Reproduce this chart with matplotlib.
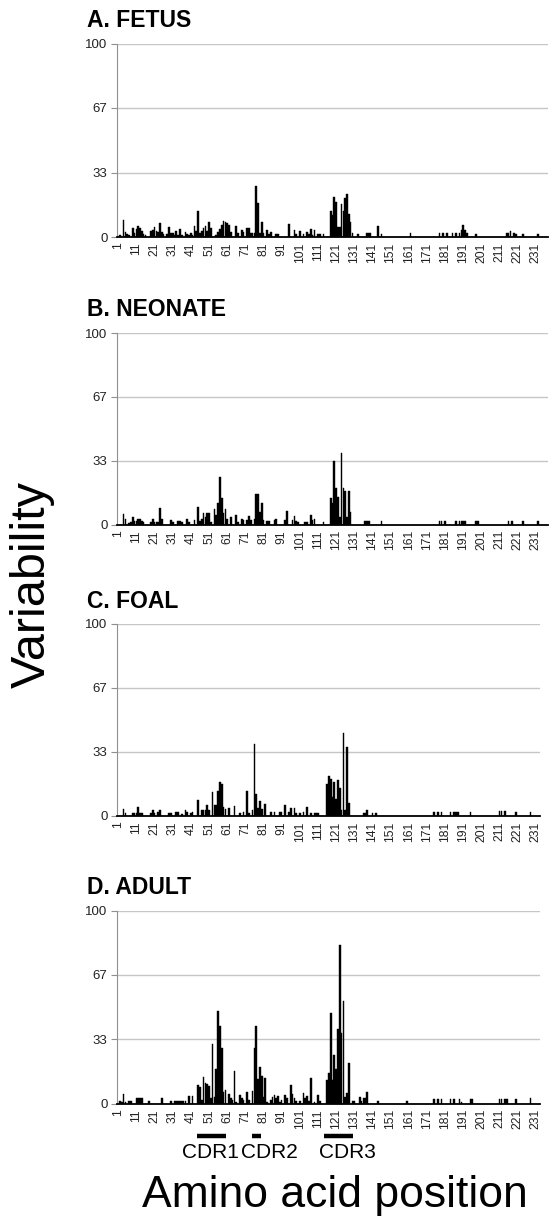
import matplotlib
matplotlib.use("Agg")
import matplotlib.pyplot as plt
import matplotlib.transforms as mtransforms

plt.rcParams['font.family'] = ['Liberation Sans', 'DejaVu Sans']

# ---------------- data ----------------
tick_labels = [str(v) for v in range(1, 232, 10)]
ytick_vals = [0, 100 / 3, 200 / 3, 100]
ytick_text = ['0', '33', '67', '100']

titles = ['A. FETUS', 'B. NEONATE', 'C. FOAL', 'D. ADULT']
n_positions = [237, 237, 233, 233]

fetus_pos = [2, 4, 5, 6, 7, 9, 10, 11, 12, 13,
             14, 15, 16, 19, 20, 21, 22, 23, 24, 25,
             26, 28, 29, 30, 31, 32, 33, 34, 35, 36,
             38, 39, 40, 41, 42, 43, 44, 45, 46, 47,
             48, 49, 50, 51, 52, 55, 56, 57, 58, 59,
             60, 61, 62, 63, 66, 67, 69, 70, 72, 73,
             74, 75, 76, 77, 78, 79, 80, 81, 83, 84,
             85, 88, 89, 95, 98, 99, 101, 103, 105, 106,
             107, 108, 109, 111, 112, 114, 118, 119, 120, 121,
             122, 123, 124, 125, 126, 127, 128, 129, 130, 133,
             138, 139, 140, 144, 146, 162, 178, 180, 182, 185,
             187, 189, 190, 191, 192, 193, 198, 215, 216, 217,
             219, 220, 224, 232]
fetus_val = [1, 8.9, 2.7, 1.4, 1, 4.6, 2, 3.9, 5.9, 4.6,
             3.2, 1.8, 1, 3.2, 3.5, 5.3, 3.2, 2.7, 7.3, 2.7,
             1.4, 1.4, 5, 2.3, 2.3, 1, 3.2, 1, 4.1, 1,
             2.8, 1.8, 1, 2.3, 1, 5.5, 3.2, 13.3, 2, 3.2,
             4.6, 5.7, 3.2, 7.6, 4.6, 1, 2.8, 3.9, 6.4, 8.5,
             8, 7, 6.4, 2.7, 5.9, 2.3, 3.5, 2.8, 4.6, 4.4,
             2.3, 2.3, 2.3, 26.6, 17.4, 2.3, 8, 2, 3.5, 1.8,
             2.7, 1.8, 1.4, 6.7, 3.5, 1.8, 3, 1.4, 2.7, 1.4,
             4.1, 1, 3.8, 1.8, 1.4, 1.4, 13.3, 11.5, 20.9, 18.3,
             5.3, 5.3, 17, 13.5, 20, 22, 12, 7.6, 2.3, 1.4,
             2.3, 2.3, 2.3, 5.7, 1.4, 2.3, 2.3, 2.3, 2.3, 2.3,
             2.3, 2.3, 3.5, 6.2, 3.5, 2.3, 1.8, 2.3, 2.3, 3,
             2.3, 1.4, 1.4, 1.8]

neonate_pos = [4, 5, 7, 8, 9, 10, 11, 12, 13, 14,
               15, 19, 20, 21, 22, 23, 24, 25, 30, 31,
               34, 35, 36, 39, 40, 43, 45, 46, 47, 48,
               49, 50, 51, 52, 54, 55, 56, 57, 58, 59,
               60, 61, 63, 66, 67, 69, 70, 72, 73, 74,
               76, 77, 78, 79, 80, 81, 83, 84, 87, 88,
               93, 94, 97, 98, 99, 100, 104, 105, 107, 108,
               109, 114, 118, 119, 120, 121, 122, 123, 124, 125,
               126, 127, 128, 129, 137, 138, 139, 146, 178, 179,
               181, 187, 189, 190, 191, 192, 198, 199, 216, 218,
               224, 232]
neonate_val = [5.4, 2.8, 1, 1.4, 4, 1.9, 1.9, 3.1, 3.1, 1.9,
               1.4, 1.4, 2.8, 1.4, 1.4, 1.4, 8.7, 2.8, 2.6, 1.4,
               1.9, 1.9, 1.4, 2.8, 1.4, 2.6, 8.9, 1.9, 2.8, 5.8,
               4, 5.8, 5.8, 1.4, 7.9, 4.9, 11, 25, 13.6, 6.1,
               7.9, 2.8, 3.8, 4.9, 1.4, 2.8, 2.3, 2.3, 4.5, 2.3,
               2.8, 15.7, 15.7, 6.6, 11, 2.3, 1.9, 1.9, 2.3, 2.8,
               2.6, 7, 2.3, 4.5, 1.9, 1.4, 1.4, 1.4, 4.9, 2.3,
               2.8, 1.4, 13.6, 11.3, 33, 18.8, 14.5, 4, 37.5, 18.8,
               17.6, 4, 17.6, 6.6, 1.9, 1.9, 1.9, 1.9, 1.9, 1.9,
               1.9, 1.9, 1.9, 1.9, 1.9, 1.9, 1.9, 1.9, 1.9, 1.9,
               1.9, 1.9]

foal_pos = [4, 5, 9, 10, 11, 12, 13, 14, 19, 20,
            21, 23, 24, 29, 30, 33, 34, 36, 38, 39,
            41, 42, 45, 47, 48, 49, 50, 51, 53, 54,
            55, 56, 57, 58, 59, 60, 62, 65, 68, 70,
            72, 73, 75, 76, 77, 78, 79, 80, 82, 85,
            87, 90, 91, 93, 95, 96, 98, 99, 101, 103,
            105, 107, 109, 110, 111, 116, 117, 118, 119, 120,
            121, 122, 123, 124, 125, 126, 127, 128, 136, 137,
            138, 141, 143, 175, 177, 179, 184, 186, 187, 188,
            195, 211, 212, 214, 220, 228]
foal_val = [3.8, 1.6, 1.6, 1.7, 1.6, 4.7, 1.6, 1.6, 1.7, 3.3,
            1.6, 2, 3, 1.6, 1.6, 1.9, 1.9, 1.2, 3, 2,
            1.6, 2, 8.5, 3, 3, 3.3, 5.6, 3.3, 12.5, 5.6,
            5.6, 12.8, 17.7, 16.8, 4.7, 3.8, 4.2, 5, 1.6, 2,
            13, 1.6, 3, 37.3, 11.3, 4.3, 7.6, 3.8, 6.4, 2,
            2, 2, 2, 5.7, 2, 4.3, 4.2, 1.6, 1.6, 2,
            4.7, 1.6, 1.6, 1.6, 1.6, 16.8, 21, 19.4, 9.9, 17.7,
            8.7, 18.6, 14.6, 3, 43.2, 3, 36, 6.8, 1.6, 1.6,
            3, 1.6, 1.6, 2, 2, 2, 2, 2, 2, 2,
            2, 2.6, 2.6, 2.6, 2, 2]

adult_pos = [2, 3, 4, 5, 7, 8, 11, 12, 13, 14,
             18, 25, 30, 32, 33, 34, 35, 36, 37, 38,
             40, 42, 45, 46, 47, 48, 49, 50, 51, 52,
             53, 54, 55, 56, 57, 58, 59, 60, 62, 63,
             64, 65, 66, 68, 69, 70, 72, 73, 75, 76,
             77, 78, 79, 80, 81, 82, 83, 85, 86, 87,
             88, 89, 90, 91, 93, 94, 96, 97, 98, 99,
             101, 103, 104, 105, 106, 107, 109, 111, 112, 116,
             117, 118, 119, 120, 121, 122, 123, 124, 125, 126,
             127, 128, 130, 131, 134, 135, 136, 137, 138, 144,
             160, 175, 177, 179, 184, 186, 189, 190, 195, 196,
             211, 212, 214, 215, 220, 228]
adult_val = [1.4, 1, 5, 1, 1.4, 1.4, 2.6, 2.6, 2.6, 2.6,
             1.4, 3, 1.4, 1.4, 1.4, 1.4, 1.4, 1.4, 1.4, 1.4,
             4, 4, 9.5, 8.7, 2, 13.9, 10.7, 10, 9, 2.6,
             31, 3.5, 17.7, 48, 40, 29, 6, 7, 5, 2.6,
             1.7, 17, 1, 4.3, 2.6, 1.7, 6, 1.7, 6.4, 29,
             40, 12.7, 19, 14, 3.5, 13, 1, 1.7, 3.5, 4.3,
             2.6, 4, 1, 2, 4.3, 2.6, 9.5, 5, 2.6, 1.4,
             1.4, 5.5, 2.6, 3.8, 1.4, 13.3, 1, 4.3, 1.4, 12,
             16, 47, 12, 25, 17.7, 38.6, 82, 36.4, 53, 3.5,
             5.5, 21, 1.4, 1.4, 3.5, 1.4, 2.6, 3, 5.7, 1.4,
             1.4, 2.2, 2.2, 2.2, 2.2, 2.2, 2.2, 1, 2.2, 2.2,
             2.2, 2.2, 2.2, 2.2, 2.2, 2.6]

cdr_names = ['CDR1', 'CDR2', 'CDR3']
cdr_start = [45, 75, 115]
cdr_end = [60, 79, 130]

series_pos = [fetus_pos, neonate_pos, foal_pos, adult_pos]
series_val = [fetus_val, neonate_val, foal_val, adult_val]

# ---------------- layout ----------------
W, H = 553, 1226
fig = plt.figure(figsize=(W / 100, H / 100), dpi=100)

left_px = 117.3
step_px = 1.816
axes_top = [43.5, 333.0, 624.0, 910.5]
axes_bot = [237.0, 524.5, 816.0, 1103.5]

axes = []
for i in range(4):
    n = n_positions[i]
    width_px = n * step_px
    ax = fig.add_axes([left_px / W, 1 - axes_bot[i] / H, width_px / W,
                       (axes_bot[i] - axes_top[i]) / H])
    ax.bar(series_pos[i], series_val[i], width=0.92, color='black',
           edgecolor='black', linewidth=0.3, zorder=3)
    ax.set_xlim(0.5, n + 0.5)
    ax.set_ylim(0, 100)
    ax.set_yticks(ytick_vals)
    ax.set_yticklabels(ytick_text, fontsize=9.5, color='#222222')
    ax.set_xticks(list(range(1, 232, 10)))
    ax.set_xticklabels(tick_labels, rotation=90, fontsize=8.8, color='#222222')
    ax.tick_params(axis='x', length=0, pad=4)
    ax.tick_params(axis='y', length=4, width=0.8, color='#909090', pad=3)
    ax.yaxis.grid(True, color='#c6c6c6', linewidth=1.0, zorder=0)
    ax.set_axisbelow(True)
    for s in ['top', 'right']:
        ax.spines[s].set_visible(False)
    ax.spines['left'].set_color('#909090')
    ax.spines['left'].set_linewidth(0.8)
    ax.spines['bottom'].set_color('black')
    ax.spines['bottom'].set_linewidth(1.3)
    ax.spines['bottom'].set_zorder(4)
    fig.text(87 / W, 1 - (axes_top[i] - 23) / H, titles[i], fontsize=16.5,
             fontweight='bold', ha='left', va='center')
    axes.append(ax)

# CDR bars under panel D
axd = axes[3]
trans = mtransforms.blended_transform_factory(axd.transData, fig.transFigure)
bar_y = 1 - 1136 / H
text_y = 1 - 1152 / H
cdr_text_x = [52.0, 84.0, 127.3]
for name, s0, s1, tx in zip(cdr_names, cdr_start, cdr_end, cdr_text_x):
    axd.plot([s0 - 0.5, s1 + 0.5], [bar_y, bar_y], color='black', linewidth=3.2,
             solid_capstyle='butt', transform=trans, clip_on=False)
    axd.text(tx, text_y, name, fontsize=15, ha='center', va='center',
             transform=trans, clip_on=False)

fig.text(32 / W, 1 - 585 / H, 'Variability', rotation=90, fontsize=35,
         ha='center', va='center')
fig.text(335 / W, 1 - 1196 / H, 'Amino acid position', fontsize=32,
         ha='center', va='center')

fig.savefig('out.png', dpi=100)
